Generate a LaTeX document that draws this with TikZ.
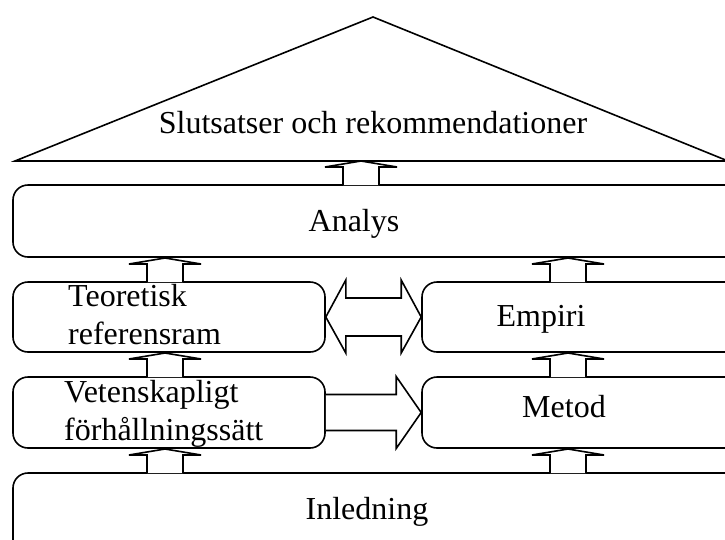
\documentclass[tikz,border=0pt]{standalone}
\usepackage{fontspec}
\setmainfont{Liberation Serif}
\usetikzlibrary{calc}
\tikzset{
  boxnode/.style={draw=black, line width=1.6pt, rounded corners=15pt, inner sep=0pt, rectangle},
  lbl/.style={inner sep=0pt, anchor=base, font=\fontsize{32}{38}\selectfont},
  lbll/.style={inner sep=0pt, anchor=base west, align=left, font=\fontsize{32}{38}\selectfont},
  blockarrow/.style={draw=black, line width=1.6pt, fill=white, line join=miter},
  uparrow/.pic={
    \draw[blockarrow] (-18,0) -- (-18,-18) -- (-36,-18) -- (0,-24) -- (36,-18) -- (18,-18) -- (18,0);
  }
}
\begin{document}
\begin{tikzpicture}[x=1pt,y=-1pt]
\useasboundingbox (0,0) rectangle (725,539);
\clip (0,0) rectangle (725,539);
% roof
\coordinate (apex) at (373,17);
\coordinate (rl) at (15,161);
\coordinate (rr) at (728,161);
\draw[line width=1.6pt, line join=miter] (rl) -- (apex) -- (rr) -- cycle;
\node[lbl] (slut) at (373,133) {Slutsatser och rekommendationer};
% boxes
\node[boxnode, minimum width=732pt, minimum height=72pt] (ana) at (379,221) {};
\node[lbl] (tana) at (354,231) {Analys};
\node[boxnode, minimum width=312pt, minimum height=70pt] (teo) at (169,317) {};
\node[lbll] (tteo) at (68,344) {Teoretisk\\referensram};
\node[boxnode, minimum width=338pt, minimum height=70pt] (emp) at (591,317) {};
\node[lbl] (temp) at (541,326) {Empiri};
\node[boxnode, minimum width=312pt, minimum height=71pt] (vet) at (169,412.5) {};
\node[lbll] (tvet) at (64,440) {Vetenskapligt\\förhållningssätt};
\node[boxnode, minimum width=338pt, minimum height=71pt] (met) at (591,412.5) {};
\node[lbl] (tmet) at (564,417) {Metod};
\node[boxnode, minimum width=747pt, minimum height=87pt] (inl) at (386.5,516.5) {};
\node[lbl] (tinl) at (367,519) {Inledning};
% up arrows
\pic at (361,185) {uparrow};
\pic at (165,282) {uparrow};
\pic at (568,282) {uparrow};
\pic at (165,377) {uparrow};
\pic at (568,377) {uparrow};
\pic at (165,473) {uparrow};
\pic at (568,473) {uparrow};
% double arrow
\draw[blockarrow] (teo.east) -- ($(teo.east)+(20,-37)$) -- ($(teo.east)+(20,-19)$) -- ($(emp.west)+(-20,-19)$) -- ($(emp.west)+(-20,-37)$) -- (emp.west) -- ($(emp.west)+(-20,36)$) -- ($(emp.west)+(-20,19)$) -- ($(teo.east)+(20,19)$) -- ($(teo.east)+(20,36)$) -- cycle;
% right arrow
\draw[blockarrow] ($(vet.east)+(0,-18)$) -- ($(met.west)+(-25,-18)$) -- ($(met.west)+(-25,-36)$) -- (met.west) -- ($(met.west)+(-25,36)$) -- ($(met.west)+(-25,18)$) -- ($(vet.east)+(0,18)$);
\end{tikzpicture}
\end{document}
